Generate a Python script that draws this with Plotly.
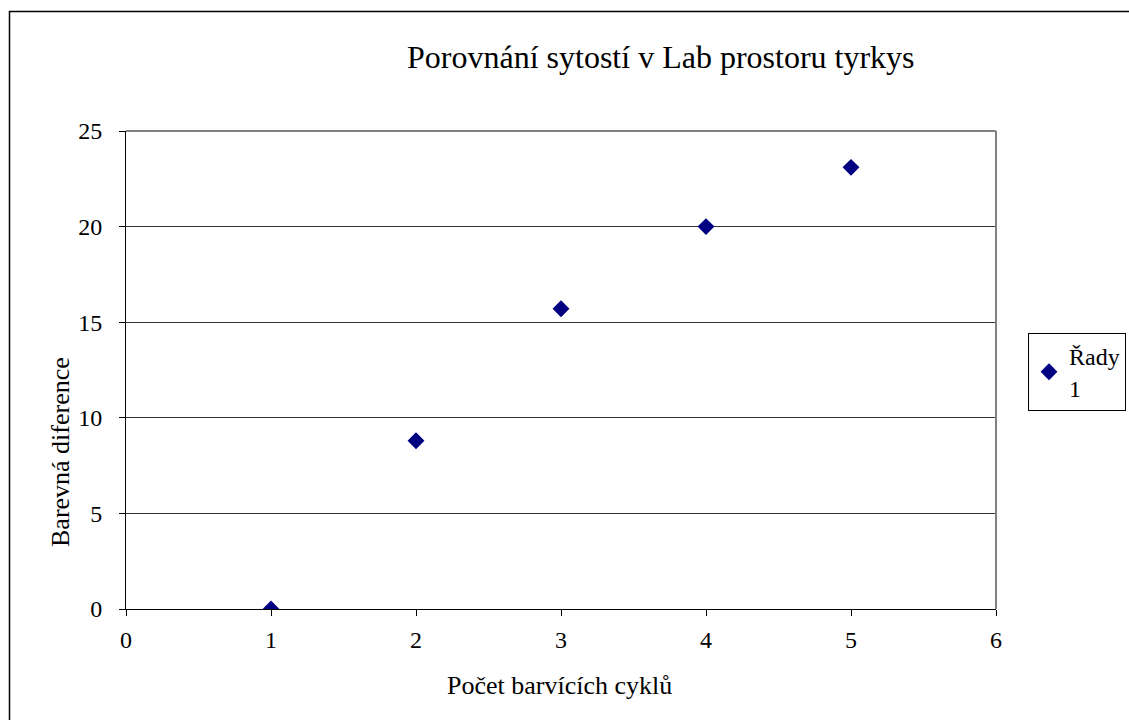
import plotly.graph_objects as go

cycles = [1, 2, 3, 4, 5]
diff = [0.0, 8.8, 15.7, 20.0, 23.1]
series_name = "Řady<br>1"
title_text = "Porovnání sytostí v Lab prostoru tyrkys"
x_label = "Počet barvících cyklů"
y_label = "Barevná diference"

FONT = "Liberation Serif, Times New Roman, serif"

fig = go.Figure()
fig.add_trace(go.Scatter(
    x=cycles, y=diff, mode="markers", name=series_name,
    marker=dict(symbol="diamond", size=13, color="#000080"),
))

fig.update_layout(
    width=1129, height=720,
    margin=dict(l=126, r=133, t=131, b=111, autoexpand=False),
    paper_bgcolor="white", plot_bgcolor="white",
    font=dict(family=FONT, size=24, color="black"),
    showlegend=True,
    legend=dict(
        xref="container", yref="container",
        x=1028 / 1129, y=1 - 333 / 720, xanchor="left", yanchor="top",
        bordercolor="black", borderwidth=1, bgcolor="white",
        font=dict(family=FONT, size=24, color="black"),
        itemwidth=30, tracegroupgap=0,
    ),
    xaxis=dict(
        range=[0, 6], tickvals=[0, 1, 2, 3, 4, 5, 6],
        showgrid=False, zeroline=False,
        showline=True, linecolor="black", linewidth=1,
        ticks="outside", ticklen=6, tickcolor="black",
        ticklabelstandoff=3, automargin=False,
        tickfont=dict(family=FONT, size=24), fixedrange=True,
    ),
    yaxis=dict(
        range=[0, 25], tickvals=[0, 5, 10, 15, 20, 25],
        showgrid=True, gridcolor="#333333", gridwidth=1,
        zeroline=False,
        showline=True, linecolor="black", linewidth=1,
        ticks="outside", ticklen=6, tickcolor="black",
        ticklabelstandoff=12, automargin=False,
        tickfont=dict(family=FONT, size=24), fixedrange=True,
    ),
    shapes=[
        dict(type="line", xref="paper", yref="paper", x0=0, x1=1, y0=1, y1=1,
             line=dict(color="#808080", width=2)),
        dict(type="line", xref="paper", yref="paper", x0=1, x1=1, y0=0, y1=1,
             line=dict(color="#808080", width=2)),
        dict(type="rect", xref="paper", yref="paper",
             x0=(9.5 - 126) / 870, x1=(1140 - 126) / 870,
             y0=(609 - 730) / 478, y1=(609 - 11.5) / 478,
             line=dict(color="black", width=1.5), layer="below"),
    ],
    annotations=[
        dict(text=title_text, xref="paper", yref="paper",
             x=(661 - 126) / 870, y=(609 - 57) / 478,
             xanchor="center", yanchor="middle", showarrow=False,
             font=dict(family=FONT, size=32, color="black")),
        dict(text=x_label, xref="paper", yref="paper",
             x=(559 - 126) / 870, y=(609 - 685) / 478,
             xanchor="center", yanchor="middle", showarrow=False,
             font=dict(family=FONT, size=26, color="black")),
        dict(text=y_label, xref="paper", yref="paper",
             x=(60 - 126) / 870, y=(609 - 452) / 478, textangle=-90,
             xanchor="center", yanchor="middle", showarrow=False,
             font=dict(family=FONT, size=26, color="black")),
    ],
)

fig.write_html("out.html")
